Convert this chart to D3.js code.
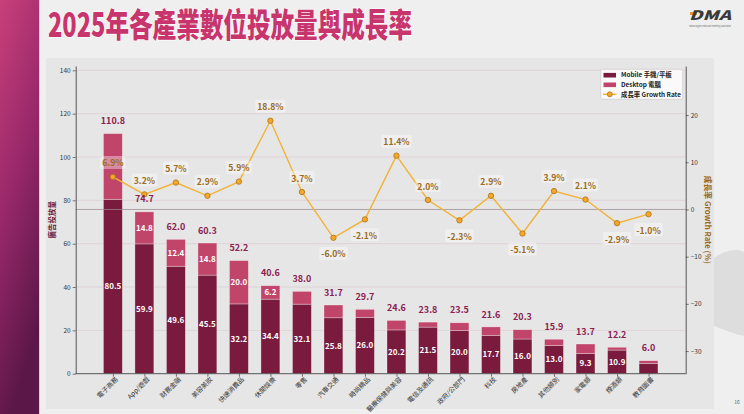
<!DOCTYPE html>
<html><head><meta charset="utf-8">
<script src="https://cdn.jsdelivr.net/npm/d3@7/dist/d3.min.js"></script>
<style>
html,body{margin:0;padding:0;background:#efefef;}
svg{display:block;}
text{font-family:"Noto Sans CJK TC","Noto Sans CJK SC","DejaVu Sans",sans-serif;}
</style></head>
<body>
<svg id="c" width="744" height="414"></svg>
<script>
const categories = ["電子商務","App/遊戲","財務金融","美容美妝","快速消費品","休閒娛樂","零售","汽車交通","時尚精品","醫療保健與美容","電信及通訊","政府/公部門","科技","房地產","其他類別","家電類","煙酒類","教育圖書"];
const mobile  = [80.5,59.9,49.6,45.5,32.2,34.4,32.1,25.8,26.0,20.2,21.5,20.0,17.7,16.0,13.0,9.3,10.9,4.8];
const desktop = [30.3,14.8,12.4,14.8,20.0,6.2,5.9,5.9,3.7,4.4,2.3,3.5,3.9,4.3,2.9,4.4,1.3,1.2];
const growth  = [6.9,3.2,5.7,2.9,5.9,18.8,3.7,-6.0,-2.1,11.4,2.0,-2.3,2.9,-5.1,3.9,2.1,-2.9,-1.0];
const leftTicks = [0,20,40,60,80,100,120,140];
const rightTicks = [-30,-20,-10,0,10,20];
const legendLabels = ["Mobile 手機/平板","Desktop 電腦","成長率 Growth Rate"];

const C = {mobile:"#7a1b3d", desktop:"#c1456b", line:"#f2b236", marker:"#f5a727", markerEdge:"#a8741f",
  growthText:"#9b6c22", totalText:"#8a2150", axis:"#555", tick:"#333"};

const svg = d3.select("#c");
const defs = svg.append("defs");
const g1 = defs.append("linearGradient").attr("id","strip").attr("x1","0").attr("y1","0").attr("x2","0.3").attr("y2","1");
g1.append("stop").attr("offset","0").attr("stop-color","#c9407a");
g1.append("stop").attr("offset","0.5").attr("stop-color","#98286a");
g1.append("stop").attr("offset","1").attr("stop-color","#5b1747");

svg.append("rect").attr("width",744).attr("height",414).attr("fill","#efefef");
svg.append("rect").attr("x",0).attr("y",0).attr("width",39).attr("height",414).attr("fill","url(#strip)");
svg.append("rect").attr("x",39).attr("y",0).attr("width",1).attr("height",414).attr("fill","#e7a9c3").attr("opacity",0.6);

// Title
svg.append("text").attr("x",48).attr("y",37).attr("font-size",33).attr("font-weight",900)
  .attr("fill","#c8356c").attr("stroke","#fff").attr("stroke-width",1.2).attr("paint-order","stroke")
  .attr("textLength",364).attr("lengthAdjust","spacingAndGlyphs")
  .text("2025年各產業數位投放量與成長率");

// Logo
const logo = svg.append("g");
logo.append("rect").attr("x",690).attr("y",12).attr("width",7).attr("height",3).attr("fill","#e8962a");
logo.append("text").attr("x",689).attr("y",19.5).attr("font-size",13).attr("font-weight",900).attr("font-style","italic")
  .attr("fill","#3a3a3a").attr("textLength",42).attr("lengthAdjust","spacingAndGlyphs").text("DMA");
logo.append("text").attr("x",689).attr("y",27).attr("font-size",2.4).attr("fill","#666")
  .attr("textLength",42).attr("lengthAdjust","spacingAndGlyphs").text("Taiwan Digital Media and Marketing Association");

// Panel
svg.append("rect").attr("x",46).attr("y",58).attr("width",668).attr("height",351).attr("fill","#e6e6e6");
// Decorative smudge on right
svg.append("path").attr("d","M714,258 C725,250 736,248 744,252 L744,336 C735,334 724,330 714,326 Z")
  .attr("fill","#d6d6d6").attr("opacity",0.7);

const L = 75.7, R = 685.7, T = 66, B = 373.7;
const x = d3.scaleLinear().domain([-1.18, 18.18]).range([L, R]);
const yL = d3.scaleLinear().domain([0, 142]).range([B, T]);
const yR = d3.scaleLinear().domain([-34.8, 30.4]).range([B, T]);
const bw = x(0.6) - x(0);

// grid
svg.append("g").selectAll("line").data(leftTicks.filter(d=>d>0)).join("line")
  .attr("x1",L).attr("x2",R).attr("y1",d=>yL(d)).attr("y2",d=>yL(d))
  .attr("stroke","#dcc6ce").attr("stroke-width",0.7).attr("opacity",0.8);

const idx = categories.map((c,i)=>i);
const r1 = v => Math.round(v*10)/10;

// bars
svg.append("g").selectAll("rect").data(idx).join("rect")
  .attr("x",i=>x(i)-bw/2).attr("width",bw)
  .attr("y",i=>yL(mobile[i])).attr("height",i=>yL(0)-yL(mobile[i]))
  .attr("fill",C.mobile).attr("stroke","#fff").attr("stroke-opacity",0.5).attr("stroke-width",0.6);
svg.append("g").selectAll("rect").data(idx).join("rect")
  .attr("x",i=>x(i)-bw/2).attr("width",bw)
  .attr("y",i=>yL(mobile[i]+desktop[i])).attr("height",i=>yL(mobile[i])-yL(mobile[i]+desktop[i]))
  .attr("fill",C.desktop).attr("stroke","#fff").attr("stroke-opacity",0.5).attr("stroke-width",0.6);

// zero line of right axis
svg.append("line").attr("x1",L).attr("x2",R).attr("y1",yR(0)).attr("y2",yR(0))
  .attr("stroke","#9a8a92").attr("stroke-width",1).attr("opacity",0.75);

// axes
function styleAxis(g){
  g.select(".domain").attr("stroke",C.axis).attr("stroke-width",1);
  g.selectAll(".tick line").attr("stroke",C.axis).attr("stroke-width",0.8);
  g.selectAll(".tick text").attr("fill",C.tick).attr("font-size",6.5)
    .attr("font-family","\"Noto Sans CJK TC\",\"DejaVu Sans\",sans-serif");
}
const axL = svg.append("g").attr("transform",`translate(${L},0)`)
  .call(d3.axisLeft(yL).tickValues(leftTicks).tickSize(3).tickPadding(2).tickSizeOuter(0));
styleAxis(axL);
const axR = svg.append("g").attr("transform",`translate(${R},0)`)
  .call(d3.axisRight(yR).tickValues(rightTicks).tickSize(3).tickPadding(2).tickSizeOuter(0));
styleAxis(axR);
const axB = svg.append("g").attr("transform",`translate(0,${B})`)
  .call(d3.axisBottom(x).tickValues(idx).tickFormat(i=>categories[i]).tickSize(3).tickSizeOuter(0));
styleAxis(axB);
axB.selectAll(".tick text").attr("text-anchor","end").attr("dy",0)
  .attr("transform","translate(3,4) rotate(-45)").attr("y",3).attr("x",0).attr("font-size",6.6);
axB.select(".domain").attr("d",`M${L},0H${R}`);

// axis titles
svg.append("text").attr("transform",`translate(55,${(T+B)/2}) rotate(-90)`).attr("text-anchor","middle")
  .attr("font-size",7.5).attr("font-weight",700).attr("fill","#6e1838").text("廣告投放量");
svg.append("text").attr("transform",`translate(705,${(T+B)/2}) rotate(90)`).attr("text-anchor","middle")
  .attr("font-size",7.8).attr("font-weight",700).attr("fill","#9b6a22").text("成長率 Growth Rate (%)");

// line
const line = d3.line().x(i=>x(i)).y(i=>yR(growth[i]));
svg.append("path").datum(idx).attr("d",line).attr("fill","none").attr("stroke",C.line).attr("stroke-width",1.4);
svg.append("g").selectAll("circle").data(idx).join("circle")
  .attr("cx",i=>x(i)).attr("cy",i=>yR(growth[i])).attr("r",2.7)
  .attr("fill",C.marker).attr("stroke",C.markerEdge).attr("stroke-width",0.8);

// growth label positions
const gLabelY = i => growth[i] >= 0 ? yR(growth[i]) - 13.5 : yR(growth[i]) + 16.4;

// in-bar labels
const inbar = svg.append("g");
idx.forEach(i=>{
  const m = mobile[i], d = desktop[i];
  if (m >= 8) {
    inbar.append("text").attr("x",x(i)).attr("y",yL(m/2)).attr("dy","0.35em").attr("text-anchor","middle")
      .attr("font-size",8).attr("font-weight",700).attr("fill","#fff").text(m.toFixed(1));
  }
  const dc = yL(m + d/2);
  if (d >= 6 && Math.abs(dc - gLabelY(i)) > 10) {
    inbar.append("text").attr("x",x(i)).attr("y",dc).attr("dy","0.35em").attr("text-anchor","middle")
      .attr("font-size",8).attr("font-weight",700).attr("fill","#fff").text(d.toFixed(1));
  }
  const tot = r1(m + d);
  inbar.append("text").attr("x",x(i)).attr("y",yL(tot) - 12.5).attr("dy","0.35em").attr("text-anchor","middle")
    .attr("font-size",9).attr("font-weight",700).attr("fill",C.totalText).text(tot.toFixed(1));
});

// growth labels with light boxes
const gl = svg.append("g");
idx.forEach(i=>{
  const grp = gl.append("g");
  const t = grp.append("text").attr("x",x(i)).attr("y",gLabelY(i)).attr("dy","0.35em").attr("text-anchor","middle")
    .attr("font-size",8.6).attr("font-weight",700).attr("fill",C.growthText).text(growth[i].toFixed(1)+"%");
  const bb = t.node().getBBox();
  grp.insert("rect","text").attr("x",bb.x-2).attr("y",bb.y-0.5).attr("width",bb.width+4).attr("height",bb.height+1)
    .attr("rx",2).attr("fill","#fff").attr("opacity",0.38);
});

// legend
const lg = svg.append("g");
lg.append("rect").attr("x",600.7).attr("y",69.3).attr("width",82).attr("height",30).attr("rx",2)
  .attr("fill","#fff").attr("fill-opacity",0.8).attr("stroke","#d3c8cc").attr("stroke-width",0.7);
const ly = [75.2, 84.8, 94.3];
lg.append("rect").attr("x",603.5).attr("y",ly[0]-2.3).attr("width",12.5).attr("height",4.6).attr("fill",C.mobile);
lg.append("rect").attr("x",603.5).attr("y",ly[1]-2.3).attr("width",12.5).attr("height",4.6).attr("fill",C.desktop);
lg.append("line").attr("x1",603).attr("x2",616.5).attr("y1",ly[2]).attr("y2",ly[2]).attr("stroke",C.line).attr("stroke-width",1.4);
lg.append("circle").attr("cx",609.8).attr("cy",ly[2]).attr("r",2.5).attr("fill",C.marker).attr("stroke",C.markerEdge).attr("stroke-width",0.8);
legendLabels.forEach((s,k)=>{
  lg.append("text").attr("x",621).attr("y",ly[k]).attr("dy","0.35em").attr("font-size",6.4).attr("font-weight",700)
    .attr("fill","#222").text(s);
});

// page number
svg.append("text").attr("x",737).attr("y",404).attr("text-anchor","middle").attr("font-size",5).attr("fill","#555").text("16");
</script>
</body></html>
